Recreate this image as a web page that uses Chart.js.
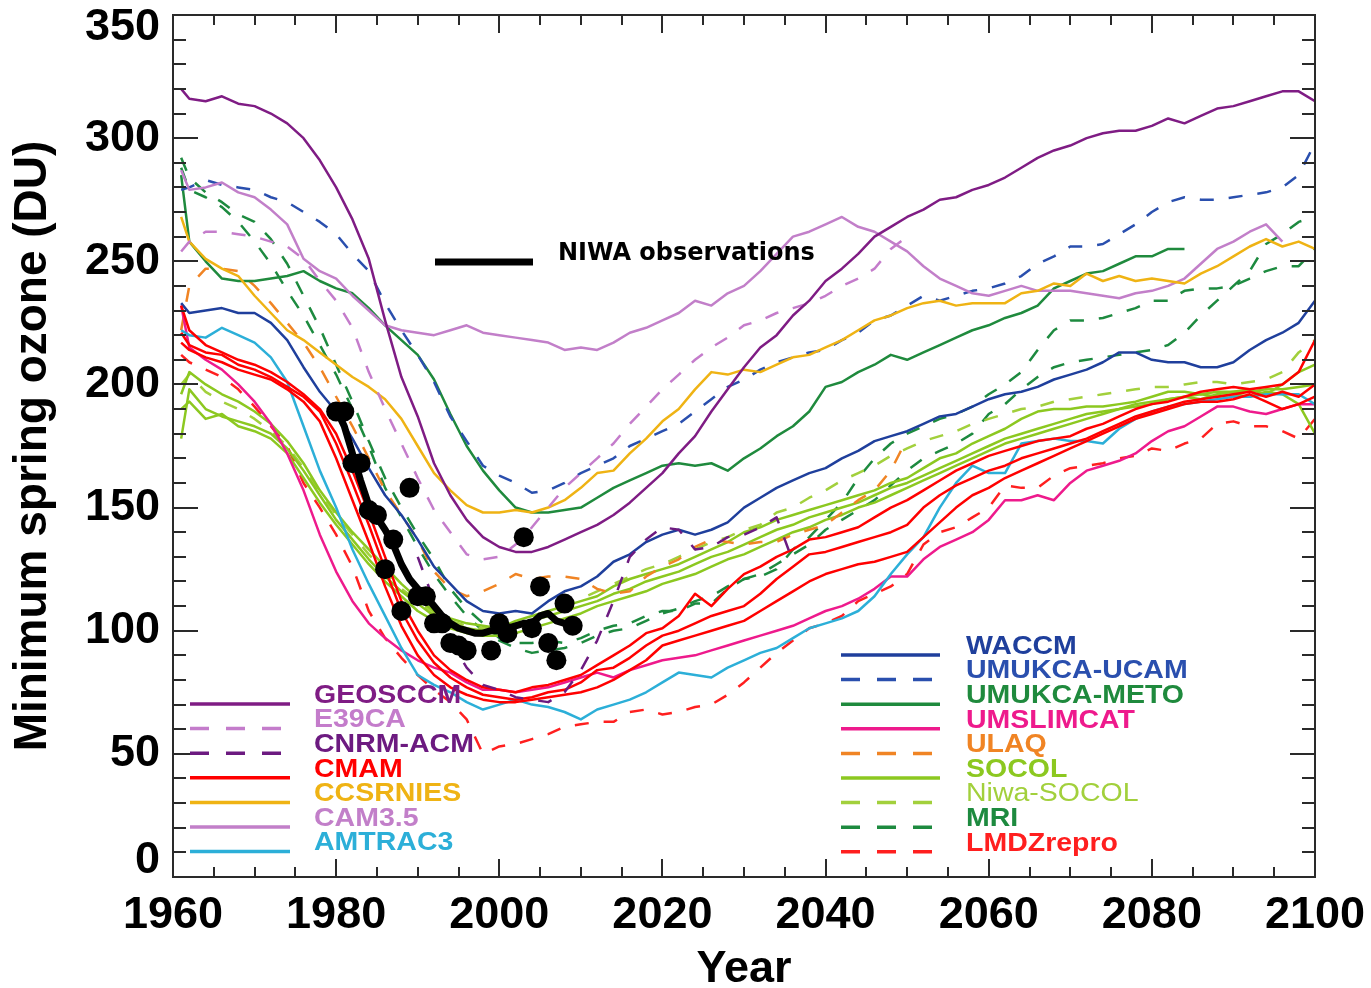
<!DOCTYPE html>
<html>
<head>
<meta charset="utf-8">
<title>Minimum spring ozone</title>
<script src="https://cdn.jsdelivr.net/npm/chart.js@4/dist/chart.umd.min.js"></script>
<style>
  html, body { margin: 0; padding: 0; background: #ffffff; overflow: hidden; }
  canvas { display: block; }
</style>
</head>
<body>
<canvas id="ozone" width="1371" height="988"></canvas>
<script>
// Model years: first simulated year, then every second year to 2100
const years = [1961,1962,1964,1966,1968,1970,1972,1974,1976,1978,1980,1982,1984,1986,1988,1990,1992,1994,1996,1998,2000,2002,2004,2006,2008,2010,2012,2014,2016,2018,2020,2022,2024,2026,2028,2030,2032,2034,2036,2038,2040,2042,2044,2046,2048,2050,2052,2054,2056,2058,2060,2062,2064,2066,2068,2070,2072,2074,2076,2078,2080,2082,2084,2086,2088,2090,2092,2094,2096,2098,2100];

// Minimum spring ozone (DU) per model run, on the years above
const geosccm = [320, 316,315,317,314,313, 310,306,300,291,280, 267,251,226,203,187, 168,155,145,138,134, 132,132,134,137,140, 143,147,152,158,164, 172,179,189,198,207, 215,220,228,234,242, 247,253,260,264,268, 271,275,276,279,281, 284,288,292,295,297, 300,302,303,303,305, 308,306,309,312,313, 315,317,319,319,315];
const e39ca = [254, 258,262,262,261,260, 258,256,251,242,234, 223,205,190,176,162, 149,140,131,129,130, 135,142,150,158,164, 170,176,184,191,198, 204,210,215,219,224, 226,229,231,233,236, 240,243,247,255,260, null,null,null,null,null, null,null,null,null,null, null,null,null,null,null, null,null,null,null,null, null,null,null,null,null];
const cnrmAcm = [null, null,null,null,null,null, null,null,null,null,null, null,null,null,null,130, 112,96,85,78,76, 73,72,71,75,84, 96,112,130,137,142, 141,133,134,138,139, 142,146,128,null,null, null,null,null,null,null, null,null,null,null,null, null,null,null,null,null, null,null,null,null,null, null,null,null,null,null, null,null,null,null,null];
const cmamRun1 = [232, 222,216,213,210,208, 205,201,196,190,180, 165,148,130,112,100, 90,84,80,77,76, 75,77,78,80,82, 86,90,94,99,101, 106,115,110,117,123, 126,130,133,137,138, 140,142,146,150,153, 157,161,165,168,171, 173,175,177,178,179, 182,184,187,190,192, 193,195,197,198,199, 198,199,200,205,218];
const cmamRun2 = [221, 216,213,212,208,206, 203,199,195,189,176, 160,143,125,108,96, 87,81,77,74,73, 72,73,75,76,79, 84,85,89,94,98, 100,103,106,108,110, 115,121,126,131,132, 134,136,138,140,143, 150,155,159,162,165, 167,170,172,174,176, 178,181,184,187,189, 191,193,194,195,196, 197,195,197,195,200];
const cmamRun3 = [217, 214,211,209,206,204, 202,198,193,185,170, 153,136,118,102,90, 82,77,74,72,71, 71,72,73,74,75, 77,80,84,88,94, 96,98,100,102,104, 108,112,116,120,123, 125,127,128,130,132, 138,144,150,155,158, 162,165,168,171,174, 177,180,183,186,188, 190,192,193,193,194, 196,193,190,192,195];
const ccsrnies = [268, 258,251,247,244,236, 229,222,218,213,208, 203,199,194,186,175, 164,157,151,148,148, 149,148,150,153,158, 164,165,172,178,185, 190,198,205,204,206, 205,208,211,212,215, 218,222,226,228,231, 233,234,232,233,233, 233,237,238,241,240, 245,242,244,242,243, 242,241,245,248,252, 256,259,256,258,255];
const cam35 = [287, 279,280,282,278,276, 271,265,251,246,243, 236,230,224,222,221, 220,222,224,221,220, 219,218,217,214,215, 214,217,221,223,226, 229,234,232,237,240, 246,253,260,262,265, 268,264,262,258,254, 248,243,240,237,236, 238,240,238,238,238, 237,236,235,237,238, 240,243,249,255,258, 262,265,258,null,null];
const amtrac3 = [222, 220,219,223,220,217, 211,201,183,165,150, 133,119,106,93,82, 78,75,71,68,70, 72,70,69,67,64, 68,70,72,75,79, 83,82,81,85,88, 91,93,97,101,103, 105,108,114,123,131, 138,150,160,167,164, 164,176,177,178,177, 177,176,182,186,189, 191,192,193,194,195, 195,196,196,196,192];
const waccm = [233, 229,230,231,229,229, 225,218,207,197,189, 178,166,155,147,137, 126,119,112,108,107, 108,107,112,116,118, 122,128,131,136,139, 141,139,141,144,150, 154,158,161,164,166, 170,173,177,179,181, 184,187,188,191,194, 196,197,199,202,204, 206,209,213,213,210, 209,209,207,207,209, 214,218,221,225,234];
const umukcaUcam = [279, 280,283,281,280,279, 276,274,270,266,261, 253,246,233,222,212, 201,187,177,167,163, 160,156,157,160,164, 167,170,175,178,181, 184,189,194,199,202, 206,209,211,213,214, 218,221,226,228,232, 236,234,236,238,239, 241,244,249,252,256, 256,257,261,265,270, 274,276,275,275,276, 277,278,280,285,298];
const umukcaMeto = [285, 258,250,243,242,242, 243,244,246,242,239, 237,231,224,218,212, 202,188,175,165,157, 150,148,148,149,150, 154,158,161,164,167, 168,167,168,165,170, 174,179,183,189,199, 201,205,208,212,210, 213,216,219,222,224, 227,229,232,239,242, 245,246,249,252,252, 255,255,null,null,null, null,null,null,null,null];
const umslimcat = [232, 215,210,206,200,193, 184,172,157,139,124, 112,103,97,92,88, 85,83,79,76,76, 75,76,77,79,81, 83,81,84,86,88, 89,90,92,94,96, 98,100,102,105,108, 110,113,117,122,122, 129,134,137,140,145, 153,153,155,153,160, 165,167,169,172,177, 181,183,187,191,191, 189,188,190,192,192];
const ulaq = [222, 240,247,247,246,240, 233,225,217,207,195, 183,170,157,147,137, 124,117,114,116,119, 123,121,122,122,121, 117,115,116,122,126, 129,134,137,136,135, 136,136,139,141,143, 148,153,157,165,178, null,null,null,null,null, null,null,null,null,null, null,null,null,null,null, null,null,null,null,null, null,null,null,null,null];
const socolRun1 = [196, 205,200,196,193,189, 184,177,168,157,148, 140,133,126,119,113, 108,105,103,102,101, 104,106,108,110,112, 114,118,121,123,125, 127,130,133,136,140, 142,145,147,149,151, 153,155,157,160,162, 166,170,172,176,179, 182,186,189,190,190, 191,191,192,193,195, 197,197,196,197,197, 198,196,200,205,208];
const socolRun2 = [178, 198,190,187,185,183, 180,174,165,155,145, 137,129,122,116,111, 106,103,101,100,100, 102,104,106,108,110, 112,115,117,120,122, 124,127,130,132,135, 138,141,143,146,148, 150,152,155,158,160, 163,166,169,172,175, 178,180,182,184,186, 188,189,190,192,193, 194,195,196,195,196, 195,197,196,192,180];
const socolRun3 = [190, 193,186,188,183,181, 178,172,162,152,143, 135,127,120,114,108, 104,101,99,98,98, 99,101,103,105,107, 110,112,114,116,119, 121,123,126,129,131, 134,137,140,142,145, 147,150,152,155,158, 161,164,167,170,173, 176,178,180,182,184, 186,188,190,191,192, 194,195,194,196,197, 197,198,198,199,200];
const niwaSocol = [200, 204,197,193,190,186, 181,175,166,156,147, 139,131,124,117,112, 107,104,102,101,101, 103,105,108,110,113, 116,119,122,125,127, 130,133,136,138,141, 143,148,150,154,157, 161,164,167,171,174, 177,179,181,184,186, 188,190,191,193,194, 195,196,197,198,199, 199,200,201,201,200, 201,202,205,213,218];
const mriRun1 = [292, 284,278,274,269,266, 259,249,236,223,208, 193,177,162,150,139, 129,117,109,103,97, 95,95,96,95,97, 100,102,103,106,108, 108,111,111,117,121, 122,125,133,138,145, 152,162,170,176,180, 183,186,188,191,196, 200,205,214,222,226, 226,227,229,231,234, 234,238,239,239,240, 243,246,248,248,255];
const mriRun2 = [288, 279,276,272,266,258, 249,238,228,216,204, 190,175,158,146,134, 123,114,106,100,96, 93,91,92,93,95, 98,100,101,104,107, 109,112,114,118,121, 123,127,131,135,141, 145,149,153,159,165, 170,173,176,180,188, 192,198,203,207,209, 210,211,212,213,214, 216,221,228,234,240, 246,257,261,266,268];
const lmdzRepro = [212, 209,206,203,198,191, 183,175,160,150,139, 126,108,97,89,82, 76,71,64,50,53, 54,56,58,61,62, 63,63,67,68,66, 67,69,70,74,79, 85,91,96,101,103, 106,112,115,118,123, 135,140,142,146,150, 159,158,158,163,166, 167,168,170,171,174, 173,176,178,184,185, 183,183,181,178,186];

// NIWA observations: yearly minima and their running mean
const obsYears = [1980,1981,1982,1983,1984,1985,1986,1987,1988,1989,1990,1991,1992,1993,1994,1995,1996,1999,2000,2001,2003,2004,2005,2006,2007,2008,2009];
const obsDU = [189,189,168,168,149,147,125,137,108,158,114,114,103,103,95,94,92,92,103,99,138,101,118,95,88,111,102];
const meanYears = [1980,1981,1982,1983,1984,1985,1986,1987,1988,1989,1990,1991,1992,1993,1994,1995,1996,1997,1998,1999,2000,2001,2002,2003,2004,2005,2006,2007,2008];
const meanDU = [190,183,172,161,151,146,141,135,127,121,117,114,110,106,103,101,100,99,99,100,100,101,102,103,103,106,107,104,103];

// Model list, legend order: left column then right column
const modelNames = ['GEOSCCM','E39CA','CNRM-ACM','CMAM','CCSRNIES','CAM3.5','AMTRAC3',
                    'WACCM','UMUKCA-UCAM','UMUKCA-METO','UMSLIMCAT','ULAQ','SOCOL','Niwa-SOCOL','MRI','LMDZrepro'];
const modelRuns = [[geosccm],[e39ca],[cnrmAcm],[cmamRun1,cmamRun2,cmamRun3],[ccsrnies],[cam35],[amtrac3],
                   [waccm],[umukcaUcam],[umukcaMeto],[umslimcat],[ulaq],[socolRun1,socolRun2,socolRun3],[niwaSocol],[mriRun1,mriRun2],[lmdzRepro]];
const modelColours = ['#7f1c84','#c47ccb','#6c1a80','#ff0000','#efb314','#c27fc9','#2cafd8',
                      '#1f3f9c','#2a4fae','#1f8a3d','#ee1a8c','#f08424','#8cc820','#a2d03c','#1d8a3f','#ff1f1f'];
const modelDashed = [false,true,true,false,false,false,false,
                     false,true,false,false,true,false,true,true,true];
const labelWeights = ['bold','bold','bold','bold','bold','bold','bold',
                      'bold','bold','bold','bold','bold','bold','normal','bold','bold'];
const leftColumnCount = 7;

const FONT = '"Liberation Sans", Arial, Helvetica, sans-serif';
const toPoints = (xs, ys) => xs.map((x, i) => ({ x: x, y: ys[i] }));

const datasets = [];
datasets.push({
  label: 'NIWA observations',
  data: toPoints(obsYears, obsDU),
  showLine: false,
  pointRadius: 10,
  pointBackgroundColor: '#000000',
  pointBorderColor: '#000000',
  pointBorderWidth: 0,
  order: 0
});
datasets.push({
  label: 'NIWA running mean',
  data: toPoints(meanYears, meanDU),
  borderColor: '#000000',
  borderWidth: 7,
  pointRadius: 0,
  order: 1
});
modelNames.forEach((name, m) => {
  modelRuns[m].forEach((run) => {
    datasets.push({
      label: name,
      data: toPoints(years, run),
      borderColor: modelColours[m],
      borderWidth: 2.5,
      borderDash: modelDashed[m] ? [14, 15] : [],
      pointRadius: 0,
      spanGaps: false,
      order: 2 + m
    });
  });
});

// Box frame with inward ticks on all four sides, plus the ozone tick labels
// (the end labels are pulled inside the frame)
const framePlugin = {
  id: 'frame',
  afterDatasetsDraw(chart) {
    const { ctx, chartArea: a, scales: { x, y } } = chart;
    ctx.save();
    ctx.strokeStyle = '#2a2a2a';
    ctx.lineWidth = 2;
    ctx.setLineDash([]);
    ctx.strokeRect(a.left, a.top, a.right - a.left, a.bottom - a.top);
    ctx.beginPath();
    for (let v = 0; v <= 350; v += 10) {
      const py = Math.round(y.getPixelForValue(v));
      const len = v % 50 === 0 ? 25 : 13;
      ctx.moveTo(a.left, py); ctx.lineTo(a.left + len, py);
      ctx.moveTo(a.right, py); ctx.lineTo(a.right - len, py);
    }
    for (let yr = 1960; yr <= 2100; yr += 5) {
      const px = Math.round(x.getPixelForValue(yr));
      const len = yr % 20 === 0 ? 18 : 10;
      ctx.moveTo(px, a.bottom); ctx.lineTo(px, a.bottom - len);
      ctx.moveTo(px, a.top); ctx.lineTo(px, a.top + len);
    }
    ctx.stroke();

    ctx.fillStyle = '#000000';
    ctx.font = 'bold 45px ' + FONT;
    ctx.textAlign = 'right';
    ctx.textBaseline = 'middle';
    y.ticks.forEach((t) => {
      let py = y.getPixelForValue(t.value);
      py = Math.max(py, a.top + 13);
      py = Math.min(py, a.bottom - 16);
      ctx.fillText(String(t.value), a.left - 13, py);
    });
    ctx.restore();
  }
};

// Two-column model key and the observation key
const keyPlugin = {
  id: 'key',
  afterDraw(chart) {
    const ctx = chart.ctx;
    ctx.save();
    const step = 24.6;
    modelNames.forEach((name, m) => {
      const left = m < leftColumnCount;
      const row = left ? m : m - leftColumnCount;
      const x0 = left ? 190 : 841;
      const x1 = left ? 290 : 940;
      const tx = left ? 314 : 966;
      const ly = (left ? 704 : 655) + row * step;
      ctx.strokeStyle = modelColours[m];
      ctx.lineWidth = 3.5;
      ctx.setLineDash(modelDashed[m] ? [19, 17] : []);
      ctx.beginPath();
      ctx.moveTo(x0, ly); ctx.lineTo(x1, ly);
      ctx.stroke();
      ctx.setLineDash([]);
      ctx.fillStyle = modelColours[m];
      ctx.font = labelWeights[m] + ' 25px ' + FONT;
      ctx.textAlign = 'left';
      ctx.textBaseline = 'middle';
      ctx.save();
      ctx.translate(tx, ly - 8);
      ctx.scale(1.14, 1);
      ctx.fillText(name, 0, 0);
      ctx.restore();
    });
    ctx.strokeStyle = '#000000';
    ctx.lineWidth = 7;
    ctx.beginPath();
    ctx.moveTo(435, 262); ctx.lineTo(533, 262);
    ctx.stroke();
    ctx.fillStyle = '#000000';
    ctx.font = 'bold 24px "DejaVu Sans", Verdana, sans-serif';
    ctx.textAlign = 'left';
    ctx.textBaseline = 'middle';
    ctx.fillText('NIWA observations', 558, 254);
    ctx.restore();
  }
};

new Chart(document.getElementById('ozone').getContext('2d'), {
  type: 'line',
  data: { datasets: datasets },
  options: {
    responsive: false,
    animation: false,
    devicePixelRatio: 1,
    layout: { padding: { top: 15, right: 56, bottom: 0, left: 0 } },
    plugins: { legend: { display: false }, tooltip: { enabled: false } },
    elements: { line: { tension: 0, borderJoinStyle: 'round' }, point: { radius: 0 } },
    scales: {
      x: {
        type: 'linear', min: 1960, max: 2100,
        grid: { display: false, drawTicks: false },
        border: { display: false },
        ticks: {
          stepSize: 20, autoSkip: false, maxRotation: 0, padding: 16, color: '#000000',
          font: { family: FONT, size: 45, weight: 'bold', lineHeight: 1 },
          callback: (v) => String(v)
        },
        title: {
          display: true, text: 'Year', color: '#000000',
          font: { family: FONT, size: 45, weight: 'bold', lineHeight: 0.82 },
          padding: { top: 0, bottom: 0 }
        },
        afterFit(scale) { scale.height = 111; scale.paddingLeft = 0; scale.paddingRight = 0; }
      },
      y: {
        type: 'linear', min: 0, max: 350,
        grid: { display: false, drawTicks: false },
        border: { display: false },
        ticks: { stepSize: 50, display: false },
        title: {
          display: true, text: 'Minimum spring ozone (DU)', color: '#000000',
          font: { family: FONT, size: 46, weight: 'bold', lineHeight: 1 },
          padding: { top: 10, bottom: 0 }
        },
        afterFit(scale) { scale.width = 173; scale.paddingTop = 0; scale.paddingBottom = 0; }
      }
    }
  },
  plugins: [framePlugin, keyPlugin]
});
</script>
</body>
</html>
